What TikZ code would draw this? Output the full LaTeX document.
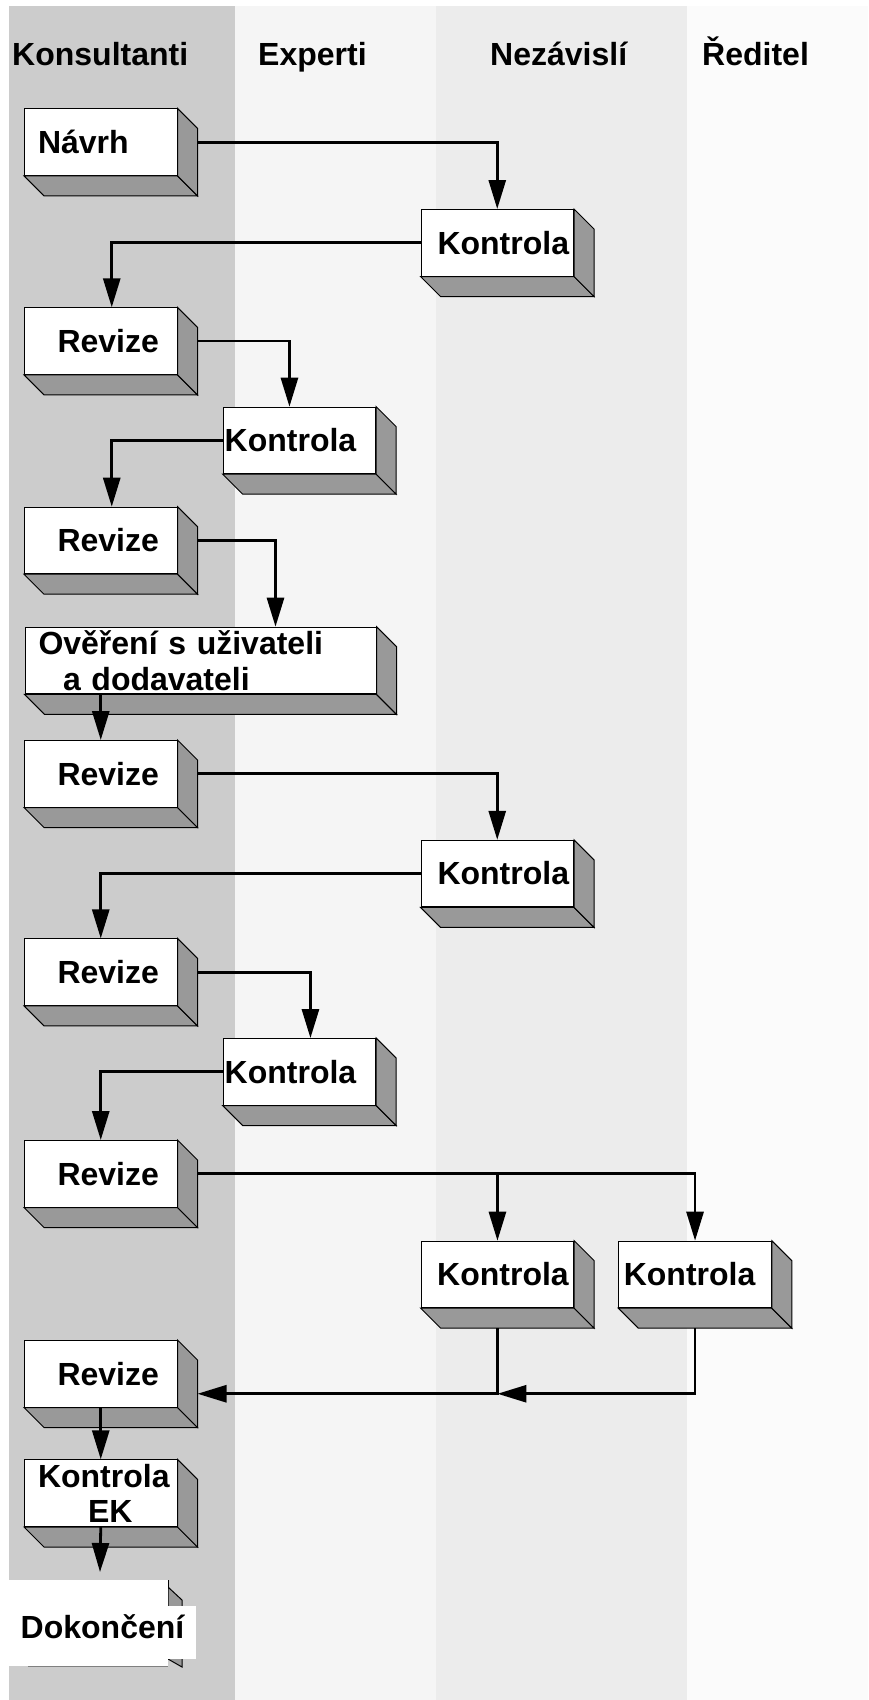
\documentclass[tikz,border=0pt]{standalone}
\usepackage{fontspec}
\setmainfont{Liberation Sans}
\usepackage{tikz}
\usetikzlibrary{arrows.meta,calc}
\definecolor{pasA}{HTML}{CCCCCC}
\definecolor{pasB}{HTML}{F5F5F5}
\definecolor{pasC}{HTML}{ECECEC}
\definecolor{pasD}{HTML}{FBFBFB}
\definecolor{bok}{HTML}{999999}
\newcommand{\pismo}{\bfseries\fontsize{32}{35.5}\selectfont}
\newcommand{\hloubka}[1]{%
  \filldraw[stena] (#1.south west) -- ++(20,20) -- ($(#1.south east)+(20,20)$) -- (#1.south east) -- cycle;
  \filldraw[stena] (#1.north east) -- ++(20,20) -- ($(#1.south east)+(20,20)$) -- (#1.south east) -- cycle;}

\begin{document}
\begin{tikzpicture}[x=1pt,y=-1pt,>=Stealth,
  krok/.style={draw, line width=1pt, fill=white, anchor=north west, inner sep=0pt,
    text width=152.5pt, minimum height=66.5pt, align=left, font=\pismo,
    execute at begin node={\hspace*{#1}}},
  krok/.default=14pt,
  stena/.style={fill=bok, draw=black, line width=1pt},
  hlava/.style={anchor=base west, inner sep=0pt, font=\pismo},
  sipka/.style={line width=2.8pt, -{Triangle[length=29pt,width=17pt]}}]
  \useasboundingbox (0,0) rectangle (868,1700);
  % drahy
  \fill[pasA] (9,6) rectangle (235,1700);
  \fill[pasB] (235,6) rectangle (436,1700);
  \fill[pasC] (436,6) rectangle (687,1700);
  \fill[pasD] (687,6) rectangle (868,1700);
  \node[hlava] (hKons) at (12,65) {Konsultanti};
  \node[hlava] (hExp) at (258,65) {Experti};
  \node[hlava] (hNez) at (490,65) {Nezávislí};
  \node[hlava] (hRed) at (702,65) {Ředitel};
  % kroky
  \node[krok=13.5pt] (navrh) at (24,108.4) {Návrh};
  \node[krok=16.5pt] (kontrola1) at (420.5,209) {Kontrola};
  \node[krok=33pt] (revize1) at (24,307.3) {Revize};
  \node[krok=1.5pt] (kontrola2) at (222.7,406.7) {Kontrola};
  \node[krok=33pt] (revize2) at (24,506.7) {Revize};
  \node[krok=13.5pt, text width=351pt, minimum height=66.7pt] (overeni) at (24.5,626.7)
    {Ověření s uživateli\\\hspace*{38pt}a dodavateli};
  \node[krok=33pt] (revize3) at (24,740) {Revize};
  \node[krok=16.5pt] (kontrola3) at (420.5,839.8) {Kontrola};
  \node[krok=33pt] (revize4) at (24,938.4) {Revize};
  \node[krok=1.5pt] (kontrola4) at (222.7,1038.1) {Kontrola};
  \node[krok=33pt] (revize5) at (24,1140) {Revize};
  \node[krok=16pt] (kontrola5) at (420.7,1240.7) {Kontrola};
  \node[krok=5pt] (kontrola6) at (618.3,1240.7) {Kontrola};
  \node[krok=33pt] (revize6) at (24,1340) {Revize};
  \node[krok=13.5pt, minimum height=66.7pt] (kontrolaEK) at (24,1459.3)
    {Kontrola\\\hspace*{63.5pt}EK};
  \foreach \k in {navrh,kontrola1,revize1,kontrola2,revize2,overeni,revize3,kontrola3,
    revize4,kontrola4,revize5,kontrola5,kontrola6,revize6,kontrolaEK}
    {\hloubka{\k}}
  % dokonceni
  \filldraw[stena] (168,1587) -- (182,1600) -- (182,1667) -- (168,1659) -- cycle;
  \fill[white] (9,1580) rectangle (168,1666);
  \draw[line width=1pt] (168,1580) -- (168,1587);
  \draw[gray, line width=1pt] (28,1666) -- (168,1666);
  \node[fill=white, inner sep=0pt, minimum width=187pt, minimum height=53pt,
    text height=24pt, text depth=13pt, font=\pismo] (dokonceni) at (102.5,1632.5) {Dokončení};
  \coordinate (cil) at (100,1572);
  % sipky
  \draw[sipka] ($(navrh.east)+(20,0)$) -| (kontrola1.north);
  \draw[sipka] (kontrola1.west) -| ($(revize1.north)+(11,0)$);
  \draw[sipka] ($(revize1.east)+(20,0)$) -| ($(kontrola2.north)+(-10,0)$);
  \draw[sipka] (kontrola2.west) -| ($(revize2.north)+(11,0)$);
  \draw[sipka] ($(revize2.east)+(20,0)$) -| ($(overeni.north west)+(251,0)$);
  \draw[sipka] (revize3.north |- overeni.south) -- (revize3.north);
  \draw[sipka] ($(revize3.east)+(20,0)$) -| (kontrola3.north);
  \draw[sipka] (kontrola3.west) -| (revize4.north);
  \draw[sipka] ($(revize4.east)+(20,0)$) -| ($(kontrola4.north)+(11,0)$);
  \draw[sipka] (kontrola4.west) -| (revize5.north);
  \draw[sipka] ($(revize5.east)+(20,0)$) -| (kontrola6.north);
  \draw[sipka] (kontrola5.north |- revize5.east) -- (kontrola5.north);
  \coordinate (spoj) at ($(kontrola5.south |- revize6.east)+(0,20)$);
  \draw[sipka] ($(kontrola5.south)+(0,20)$) -- (spoj) -- ($(revize6.east)+(20,20)$);
  \draw[sipka] ($(kontrola6.south)+(0,20)$) |- (spoj);
  \draw[sipka] (revize6.south) -- (kontrolaEK.north);
  \draw[sipka] (kontrolaEK.south) -- (cil);
\end{tikzpicture}
\end{document}
